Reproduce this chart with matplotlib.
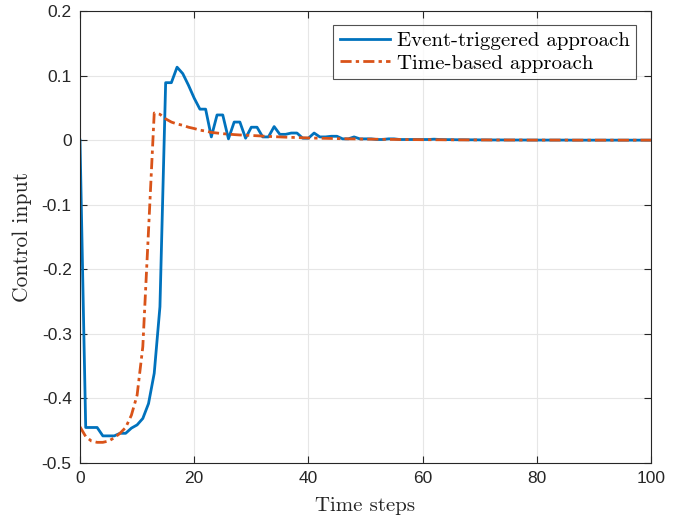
import matplotlib
matplotlib.use("Agg")
import matplotlib.pyplot as plt
from matplotlib.ticker import FixedLocator, FuncFormatter

steps = list(range(101))

event_triggered = [
    0.0, -0.445, -0.445, -0.445, -0.458, -0.458, -0.458, -0.454, -0.454, -0.446,
    -0.441, -0.431, -0.408, -0.361, -0.258, 0.089, 0.089, 0.113, 0.103, 0.085,
    0.065, 0.048, 0.048, 0.005, 0.039, 0.039, 0.002, 0.028, 0.028, 0.003,
    0.020, 0.020, 0.005, 0.005, 0.021, 0.009, 0.009, 0.011, 0.011, 0.003,
    0.003, 0.011, 0.005, 0.005, 0.006, 0.006, 0.002, 0.002, 0.005, 0.002,
    0.002, 0.002, 0.001, 0.001, 0.002, 0.002, 0.001, 0.001, 0.001, 0.001,
    0.001, 0.001, 0.0015, 0.001, 0.0008, 0.0008, 0.0006, 0.0006, 0.0005, 0.0005,
    0.0004, 0.0004, 0.0003, 0.0003, 0.0003, 0.0002, 0.0002, 0.0002, 0.0002, 0.0001,
    0.0001, 0.0001, 0.0001, 0.0001, 0.0001, 0.0001, 0.0, 0.0, 0.0, 0.0,
    0.0, 0.0, 0.0, 0.0, 0.0, 0.0, 0.0, 0.0, 0.0, 0.0, 0.0,
]

time_based = [
    -0.444, -0.459, -0.466, -0.468, -0.468, -0.466, -0.461, -0.454, -0.445, -0.426,
    -0.395, -0.320, -0.140, 0.042, 0.040, 0.033, 0.028, 0.025, 0.023, 0.020,
    0.018, 0.0155, 0.014, 0.012, 0.011, 0.010, 0.0093, 0.0086, 0.008, 0.0077,
    0.0072, 0.0068, 0.0063, 0.0058, 0.0054, 0.005, 0.0046, 0.0043, 0.004, 0.0037,
    0.0034, 0.0032, 0.003, 0.0028, 0.0026, 0.0024, 0.0022, 0.002, 0.0019, 0.0017,
    0.0016, 0.0015, 0.0014, 0.0013, 0.0012, 0.0011, 0.001, 0.0009, 0.0008, 0.0008,
    0.0007, 0.0007, 0.0006, 0.0006, 0.0005, 0.0005, 0.0004, 0.0004, 0.0004, 0.0003,
    0.0003, 0.0003, 0.0003, 0.0002, 0.0002, 0.0002, 0.0002, 0.0002, 0.0001, 0.0001,
    0.0001, 0.0001, 0.0001, 0.0001, 0.0001, 0.0001, 0.0, 0.0, 0.0, 0.0,
    0.0, 0.0, 0.0, 0.0, 0.0, 0.0, 0.0, 0.0, 0.0, 0.0, 0.0,
]

x_ticks = [0, 20, 40, 60, 80, 100]
y_ticks = [-0.5, -0.4, -0.3, -0.2, -0.1, 0, 0.1, 0.2]
labels = ["Event-triggered approach", "Time-based approach"]

fig = plt.figure(figsize=(6.89, 5.19), dpi=100)
ax = fig.add_axes([80/689, 1-463/519, (651-80)/689, (463-11)/519])

ax.plot(steps, event_triggered, color="#0072BD", lw=2.0, label=labels[0])
ax.plot(steps, time_based, color="#D95319", lw=2.0, dashes=(4, 1.5, 1.2, 1.5), label=labels[1])

ax.set_xlim(0, 100)
ax.set_ylim(-0.5, 0.2)
ax.xaxis.set_major_locator(FixedLocator(x_ticks))
ax.yaxis.set_major_locator(FixedLocator(y_ticks))

def fmt(v, pos):
    return "%g" % round(v, 3)
ax.xaxis.set_major_formatter(FuncFormatter(fmt))
ax.yaxis.set_major_formatter(FuncFormatter(fmt))

ax.tick_params(direction="in", top=True, right=True, length=5, width=0.8,
               colors="#262626", labelsize=12.5, pad=6)
for lab in ax.get_xticklabels() + ax.get_yticklabels():
    lab.set_fontfamily("Liberation Sans")
    lab.set_fontsize(12.5)
    lab.set_color("#262626")

ax.grid(True, color="#e6e6e6", lw=0.8)
ax.set_axisbelow(True)
for sp in ax.spines.values():
    sp.set_color("#262626")
    sp.set_linewidth(0.8)

ax.set_xlabel("Time steps", fontfamily="cmr10", fontsize=15, color="#262626", labelpad=8)
ax.set_ylabel("Control input", fontfamily="cmr10", fontsize=15.5, color="#262626", labelpad=7)

leg = ax.legend(loc="upper right", bbox_to_anchor=(1 - 15/571, 1 - 14/452),
                prop={"family": "cmr10", "size": 15}, frameon=True, fancybox=False,
                edgecolor="#262626", borderpad=0.3, handlelength=2.4, handletextpad=0.35,
                labelspacing=0.2, borderaxespad=0)
leg.get_frame().set_linewidth(0.8)

fig.savefig("out.png", dpi=100)
